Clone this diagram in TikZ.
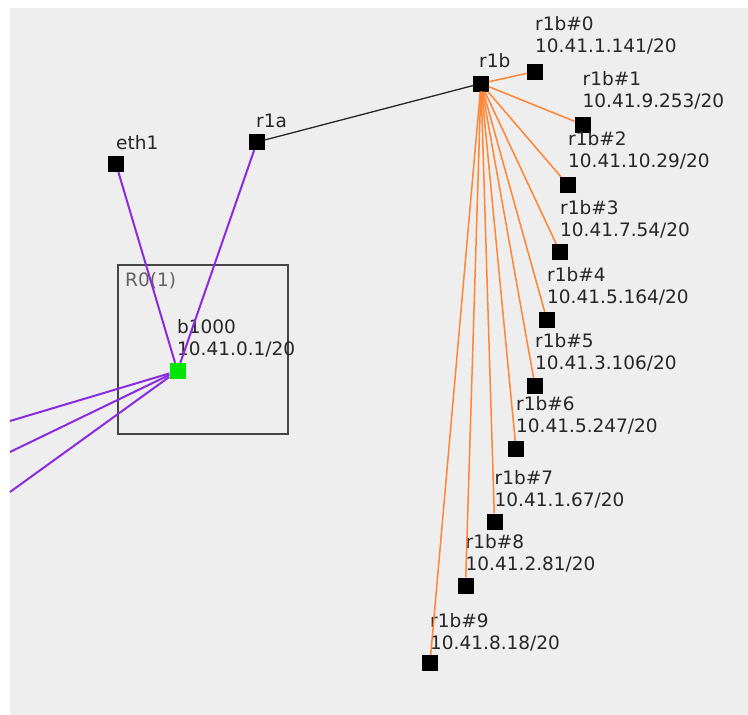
\documentclass[tikz,border=0pt]{standalone}
\usepackage{fontspec}
\setmainfont{DejaVu Sans}
\usetikzlibrary{
    positioning
}

\definecolor{canvas}{HTML}{EEEEEE}
\definecolor{boxgray}{HTML}{454545}
\definecolor{nodegreen}{HTML}{00E600}
\definecolor{linkpurple}{HTML}{8A2BE2}
\definecolor{linkorange}{HTML}{FF8433}

\begin{document}
\begin{tikzpicture}[x=1pt, y=-1pt,
    host/.style={fill=black, minimum size=16pt, inner sep=0pt},
    bridge/.style={fill=nodegreen, minimum size=16pt, inner sep=0pt},
    hostlabel/.style={anchor=base west, inner sep=0pt, text=black!85,
        font=\fontsize{18.5}{22}\selectfont},
    addrlabel/.style={anchor=south west, inner sep=0pt, align=left, text=black!85,
        font=\fontsize{18.5}{22}\selectfont},
    veth/.style={line width=2pt, linkpurple},
    patch/.style={line width=1.5pt, linkorange},
    trunk/.style={line width=1.3pt, black!85}]
    \useasboundingbox (0,0) rectangle (748,715);
    \fill[canvas] (10,8) rectangle (748,715);

    % the R0 group
    \node[draw=boxgray, line width=1.3pt, minimum width=170pt, minimum height=169pt,
        inner sep=0pt] (r0) at (203,349.5) {};
    \node[hostlabel, text=boxgray!85] (r0tag) at (125,286) {R0(1)};

    \node[host] (eth1) at (116,164) {};
    \node[hostlabel] (eth1tag) at (116,149) {eth1};
    \node[host] (r1a) at (257,142) {};
    \node[hostlabel] (r1atag) at (256,127) {r1a};
    \node[host] (r1b) at (481,83.5) {};
    \node[hostlabel] (r1btag) at (479,67) {r1b};
    \node[bridge] (b1000) at (177.5,371) {};
    \node[addrlabel] (b1000tag) at (177,357.5) {b1000\\10.41.0.1/20};

    % links leaving the picture on the left
    \coordinate (west1) at (10,421);
    \coordinate (west2) at (10,452);
    \coordinate (west3) at (10,492);
    \foreach \w in {west1,west2,west3}
        \draw[veth] (b1000) -- (\w);
    \draw[veth] (eth1) -- (b1000);
    \draw[veth] (r1a) -- (b1000);
    \draw[trunk] (r1a) -- (r1b);

    % the ten ports of r1b
    \foreach \i/\px/\py/\ly/\ip in {
        0/535/71.5/54.5/10.41.1.141,
        1/582.5/124.5/109.5/10.41.9.253,
        2/568/185/169.5/10.41.10.29,
        3/560/252/238.5/10.41.7.54,
        4/547/320/305.5/10.41.5.164,
        5/535/386/371.5/10.41.3.106,
        6/516/449/434.5/10.41.5.247,
        7/494.5/521.5/508.5/10.41.1.67,
        8/465.5/585.5/572.5/10.41.2.81,
        9/430/663/651.5/10.41.8.18}
    {
        \node[host] (r1b-\i) at (\px,\py) {};
        \node[addrlabel] (r1b-\i-tag) at (\px,\ly) {r1b\#\i\\\ip/20};
        \draw[patch] (r1b) -- (r1b-\i);
    }
\end{tikzpicture}
\end{document}
